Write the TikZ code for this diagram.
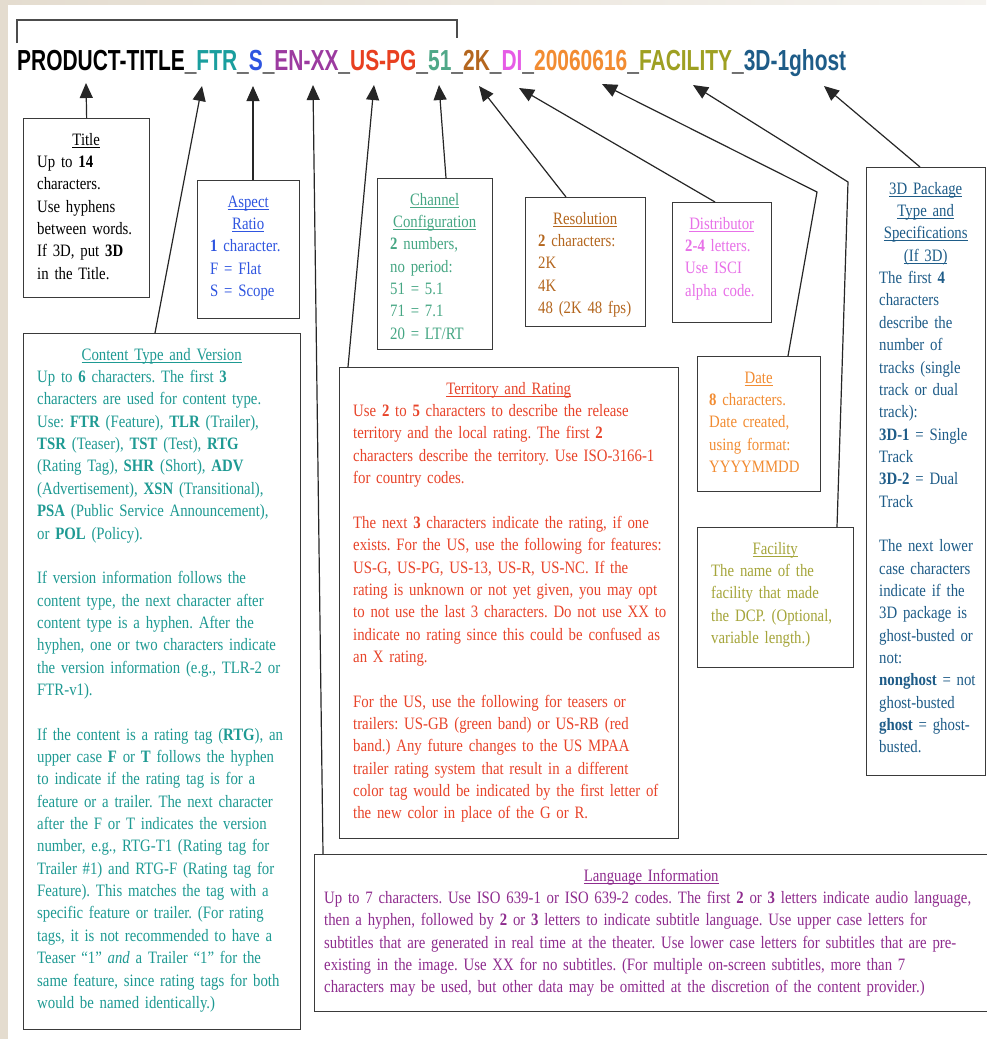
\documentclass[tikz,border=0pt]{standalone}
\usepackage{graphicx}
\usepackage{fontspec}
\setmainfont{Liberation Serif}[FakeStretch=0.85]
\newfontfamily\titlefont{Liberation Sans}
\usetikzlibrary{arrows.meta,calc}
\frenchspacing
\hyphenpenalty=10000
\exhyphenpenalty=10000

\definecolor{boxgray}{HTML}{3A3A3A}
\definecolor{beige}{HTML}{E4DCCF}
\definecolor{beigelt}{HTML}{F5F3EF}
\definecolor{cTeal}{HTML}{1E9A93}
\definecolor{tTeal}{HTML}{1A9E9E}
\definecolor{cBlue}{HTML}{2F55E0}
\definecolor{tPurple}{HTML}{9C3BA0}
\definecolor{cPurple}{HTML}{8E2C8E}
\definecolor{cRed}{HTML}{E8442A}
\definecolor{tRed}{HTML}{E84020}
\definecolor{cGreen}{HTML}{45A683}
\definecolor{tGreen}{HTML}{50A888}
\definecolor{cBrown}{HTML}{B4661E}
\definecolor{tMagenta}{HTML}{E65BE6}
\definecolor{cMagenta}{HTML}{E870E8}
\definecolor{cOrange}{HTML}{F28C32}
\definecolor{tOlive}{HTML}{9EA022}
\definecolor{cOlive}{HTML}{A5A53A}
\definecolor{cNavy}{HTML}{1E5C88}

\newcommand{\hd}[1]{\setbox0\hbox{#1}\rlap{\rule[-2.2pt]{\wd0}{0.9pt}}\box0}
\newcommand{\hdr}[2]{\makebox[#1][c]{\hd{#2}}}
\newcommand{\fl}{\rule{0pt}{12.5pt}}

\begin{document}
\begin{tikzpicture}[x=1pt,y=-1pt,
  bx/.style={draw=boxgray, line width=1.3pt, fill=white, inner sep=0pt, anchor=north west},
  txt/.style={anchor=north west, inner sep=0pt, align=left, font=\fontsize{17.4}{22.35}\selectfont},
  con/.style={draw=black!85, line width=1.2pt, -{Triangle[length=15pt,width=13pt]}},
  bracket/.style={draw=black!70, line width=1.4pt}]
\useasboundingbox (0,0) rectangle (986,1039);
\fill[white] (0,0) rectangle (986,1039);
\shade[left color=beige, right color=beigelt] (0,0) rectangle (986,4);
\fill[beige] (0,0) rectangle (8,1039);

% bracket over the title
\draw[bracket] (17,43) -- (17,20) -- (457,20) -- (457,38);

% file name
\node[anchor=base west, inner sep=0pt, font=\titlefont\bfseries\fontsize{29}{29}\selectfont] (fname) at (17,70)
 {\resizebox{829pt}{\height}{PRODUCT-TITLE\_\textcolor{tTeal}{FTR}\_\textcolor{cBlue}{S}\_\textcolor{tPurple}{EN-XX}\_\textcolor{tRed}{US-PG}\_\textcolor{tGreen}{51}\_\textcolor{cBrown}{2K}\_\textcolor{tMagenta}{DI}\_\textcolor{cOrange}{20060616}\_\textcolor{tOlive}{FACILITY}\_\textcolor{cNavy}{3D-1ghost}}};

% arrow targets under the file name
\coordinate (tTitle) at (86,83);
\coordinate (tFTR) at (202,86);
\coordinate (tS) at (253,86);
\coordinate (tEN) at (313,85);
\coordinate (tUS) at (374,85);
\coordinate (t51) at (439,85);
\coordinate (t2K) at (479,86);
\coordinate (tDI) at (519,88);
\coordinate (tDate) at (602,84);
\coordinate (tFac) at (693,85);
\coordinate (t3D) at (824,86);
\coordinate (bDate) at (817,192);
\coordinate (bFac) at (848,182);

% boxes
\node[bx, minimum width=126pt, minimum height=179pt] (title) at (23,118) {};
\node[bx, minimum width=102pt, minimum height=138pt] (aspect) at (197,180) {};
\node[bx, minimum width=115pt, minimum height=171pt] (channel) at (377,178) {};
\node[bx, minimum width=120pt, minimum height=129pt] (resol) at (525,197) {};
\node[bx, minimum width=99pt, minimum height=120pt] (distr) at (672,202) {};
\node[bx, minimum width=123pt, minimum height=135pt] (date) at (697,356) {};
\node[bx, minimum width=156pt, minimum height=140pt] (facil) at (697,527) {};
\node[bx, minimum width=119pt, minimum height=608pt] (pkg) at (866,167) {};
\node[bx, minimum width=277pt, minimum height=696pt] (content) at (23,333) {};
\node[bx, minimum width=339pt, minimum height=471pt] (territ) at (339,367) {};
\node[bx, minimum width=674pt, minimum height=157pt] (lang) at (314,854) {};

% texts
\node[txt, text width=160pt] (titletxt) at (37,132.5) {\fl\hdr{98pt}{Title}\\
Up to \textbf{14}\\ characters.\\ Use hyphens\\ between words.\\ If 3D, put \textbf{3D}\\ in the Title.};

\node[txt, text width=140pt, text=cBlue] (aspecttxt) at (210,194.5) {\fl\hdr{76pt}{Aspect}\\ \hdr{76pt}{Ratio}\\
\textbf{1} character.\\ F = Flat\\ S = Scope};

\node[txt, text width=150pt, text=cGreen] (channeltxt) at (390,192.5) {\fl\hdr{89pt}{Channel}\\ \hdr{89pt}{Configuration}\\
\textbf{2} numbers,\\ no period:\\ 51 = 5.1\\ 71 = 7.1\\ 20 = LT/RT};

\node[txt, text width=150pt, text=cBrown] (resoltxt) at (538,211.5) {\fl\hdr{94pt}{Resolution}\\
\textbf{2} characters:\\ 2K\\ 4K\\ 48 (2K 48 fps)};

\node[txt, text width=140pt, text=cMagenta] (distrtxt) at (685,216.5) {\fl\hdr{73pt}{Distributor}\\
\textbf{2-4} letters.\\ Use ISCI\\ alpha code.};

\node[txt, text width=160pt, text=cOrange] (datetxt) at (709,370.5) {\fl\hdr{99pt}{Date}\\
\textbf{8} characters.\\ Date created,\\ using format:\\ YYYYMMDD};

\node[txt, text width=190pt, text=cOlive] (faciltxt) at (711,541.5) {\fl\hdr{128pt}{Facility}\\
The name of the\\ facility that made\\ the DCP. (Optional,\\ variable length.)};

\node[txt, text width=160pt, text=cNavy] (pkgtxt) at (879,181.5) {\fl\hdr{93pt}{3D Package}\\ \hdr{93pt}{Type and}\\ \hdr{93pt}{Specifications}\\ \hdr{93pt}{(If 3D)}\\
The first \textbf{4}\\ characters\\ describe the\\ number of\\ tracks (single\\ track or dual\\ track):\\
\textbf{3D-1} = Single\\ Track\\ \textbf{3D-2} = Dual\\ Track\\[22.35pt]
The next lower\\ case characters\\ indicate if the\\ 3D package is\\ ghost-busted or\\ not:\\
\textbf{nonghost} = not\\ ghost-busted\\ \textbf{ghost} = ghost-\\ busted.};

\node[txt, text width=320pt, text=cTeal] (contenttxt) at (37,347.5) {\fl\hdr{249pt}{Content Type and Version}\\
Up to \textbf{6} characters. The first \textbf{3}\\
characters are used for content type.\\
Use: \textbf{FTR} (Feature), \textbf{TLR} (Trailer),\\
\textbf{TSR} (Teaser), \textbf{TST} (Test), \textbf{RTG}\\
(Rating Tag), \textbf{SHR} (Short), \textbf{ADV}\\
(Advertisement), \textbf{XSN} (Transitional),\\
\textbf{PSA} (Public Service Announcement),\\
or \textbf{POL} (Policy).\\[22.35pt]
If version information follows the\\
content type, the next character after\\
content type is a hyphen. After the\\
hyphen, one or two characters indicate\\
the version information (e.g., TLR-2 or\\
FTR-v1).\\[22.35pt]
If the content is a rating tag (\textbf{RTG}), an\\
upper case \textbf{F} or \textbf{T} follows the hyphen\\
to indicate if the rating tag is for a\\
feature or a trailer. The next character\\
after the F or T indicates the version\\
number, e.g., RTG-T1 (Rating tag for\\
Trailer \#1) and RTG-F (Rating tag for\\
Feature). This matches the tag with a\\
specific feature or trailer. (For rating\\
tags, it is not recommended to have a\\
Teaser “1” \textit{and} a Trailer “1” for the\\
same feature, since rating tags for both\\
would be named identically.)};

\node[txt, text width=380pt, text=cRed] (territtxt) at (353,381.5) {\fl\hdr{311pt}{Territory and Rating}\\
Use \textbf{2} to \textbf{5} characters to describe the release\\
territory and the local rating. The first \textbf{2}\\
characters describe the territory. Use ISO-3166-1\\
for country codes.\\[22.35pt]
The next \textbf{3} characters indicate the rating, if one\\
exists. For the US, use the following for features:\\
US-G, US-PG, US-13, US-R, US-NC. If the\\
rating is unknown or not yet given, you may opt\\
to not use the last 3 characters. Do not use XX to\\
indicate no rating since this could be confused as\\
an X rating.\\[22.35pt]
For the US, use the following for teasers or\\
trailers: US-GB (green band) or US-RB (red\\
band.) Any future changes to the US MPAA\\
trailer rating system that result in a different\\
color tag would be indicated by the first letter of\\
the new color in place of the G or R.};

\node[txt, text width=760pt, text=cPurple] (langtxt) at (324,868.5) {\fl\hdr{654pt}{Language Information}\\
Up to 7 characters. Use ISO 639-1 or ISO 639-2 codes. The first \textbf{2} or \textbf{3} letters indicate audio language,\\
then a hyphen, followed by \textbf{2} or \textbf{3} letters to indicate subtitle language. Use upper case letters for\\
subtitles that are generated in real time at the theater. Use lower case letters for subtitles that are pre-\\
existing in the image. Use XX for no subtitles. (For multiple on-screen subtitles, more than 7\\
characters may be used, but other data may be omitted at the discretion of the content provider.)};

% connectors
\draw[con] (title.north) -- (tTitle);
\draw[con] ($(content.north west)+(132,0)$) -- (tFTR);
\draw[con] (tS |- aspect.north) -- (tS);
\draw[con] ($(lang.north west)+(9,0)$) -- (tEN);
\draw[con] ($(territ.north west)+(9,0)$) -- (tUS);
\draw[con] ($(channel.north west)+(69,0)$) -- (t51);
\draw[con] ($(resol.north west)+(41,0)$) -- (t2K);
\draw[con] ($(distr.north west)+(43,0)$) -- (tDI);
\draw[con] ($(date.north west)+(91,0)$) -- (bDate) -- (tDate);
\draw[con] ($(facil.north west)+(140,0)$) -- (bFac) -- (tFac);
\draw[con] ($(pkg.north west)+(54,0)$) -- (t3D);
\end{tikzpicture}
\end{document}
